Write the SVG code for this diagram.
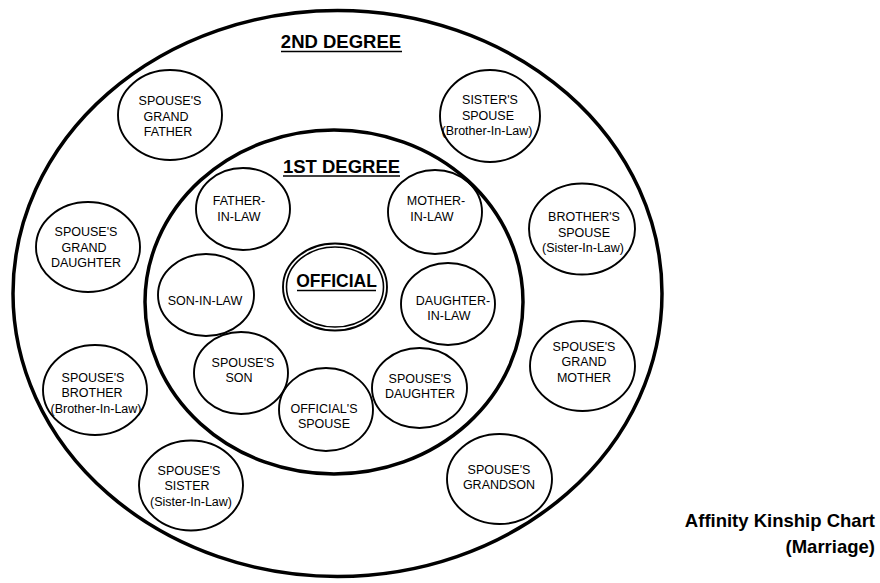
<svg xmlns="http://www.w3.org/2000/svg" width="880" height="583" viewBox="0 0 880 583">
<style>
text{font-family:"Liberation Sans",Arial,Helvetica,sans-serif;fill:#000}
.n{font-size:12.5px;text-anchor:middle}
.h{font-size:18.5px;font-weight:bold;text-anchor:middle}
.c{font-size:18.5px;font-weight:bold;text-anchor:end}
.e{fill:none;stroke:#000;stroke-width:1.9}
.ring{fill:none;stroke:#000;stroke-width:3.5}
.ul{stroke:#000;stroke-width:1.6}
</style>
<rect width="880" height="583" fill="#fff"/>
<g id="rings">
<ellipse class="ring" cx="337.5" cy="293.5" rx="324.5" ry="283"/>
<ellipse class="ring" cx="334" cy="302" rx="189" ry="172"/>
</g>
<g id="headings">
<text class="h" x="341" y="48">2ND DEGREE</text>
<line class="ul" x1="281" y1="51.5" x2="402" y2="51.5"/>
<text class="h" x="341.5" y="173">1ST DEGREE</text>
<line class="ul" x1="283" y1="176" x2="400" y2="176"/>
</g>
<g id="connectors"></g>
<g id="official">
<ellipse class="e" cx="335" cy="287" rx="52" ry="43.5"/>
<ellipse cx="335" cy="287" rx="48.5" ry="40" fill="none" stroke="#000" stroke-width="1.6"/>
<text x="336.5" y="287" style="font-size:17.5px;font-weight:bold;text-anchor:middle">OFFICIAL</text>
<line class="ul" x1="297" y1="290.5" x2="376" y2="290.5"/>
</g>
<g id="father-in-law">
<ellipse class="e" cx="243" cy="209" rx="47" ry="41"/>
<text class="n"><tspan x="239" y="205">FATHER-</tspan><tspan x="239" y="221">IN-LAW</tspan></text>
</g>
<g id="mother-in-law">
<ellipse class="e" cx="435" cy="212" rx="47" ry="42"/>
<text class="n"><tspan x="436" y="205">MOTHER-</tspan><tspan x="432" y="221">IN-LAW</tspan></text>
</g>
<g id="son-in-law">
<ellipse class="e" cx="206" cy="295" rx="48" ry="41"/>
<text class="n" x="205" y="305">SON-IN-LAW</text>
</g>
<g id="daughter-in-law">
<ellipse class="e" cx="448" cy="304" rx="47" ry="41"/>
<text class="n"><tspan x="453" y="305">DAUGHTER-</tspan><tspan x="449" y="320">IN-LAW</tspan></text>
</g>
<g id="spouses-son">
<ellipse class="e" cx="241" cy="373" rx="47" ry="41"/>
<text class="n"><tspan x="243" y="367">SPOUSE'S</tspan><tspan x="239" y="382">SON</tspan></text>
</g>
<g id="officials-spouse">
<ellipse class="e" cx="326" cy="409.5" rx="47" ry="41.5"/>
<text class="n"><tspan x="324" y="413">OFFICIAL'S</tspan><tspan x="324" y="428">SPOUSE</tspan></text>
</g>
<g id="spouses-daughter">
<ellipse class="e" cx="419.5" cy="388" rx="47.5" ry="40"/>
<text class="n"><tspan x="420" y="383">SPOUSE'S</tspan><tspan x="420" y="398">DAUGHTER</tspan></text>
</g>
<g id="spouses-grand-father">
<ellipse class="e" cx="170" cy="115" rx="52" ry="45"/>
<text class="n"><tspan x="170" y="105">SPOUSE'S</tspan><tspan x="166" y="121">GRAND</tspan><tspan x="168" y="136">FATHER</tspan></text>
</g>
<g id="sisters-spouse">
<ellipse class="e" cx="490" cy="116" rx="50" ry="46"/>
<text class="n"><tspan x="490" y="104">SISTER'S</tspan><tspan x="488" y="120">SPOUSE</tspan><tspan x="487" y="135">(Brother-In-Law)</tspan></text>
</g>
<g id="spouses-grand-daughter">
<ellipse class="e" cx="88" cy="247" rx="52" ry="45"/>
<text class="n"><tspan x="86" y="236">SPOUSE'S</tspan><tspan x="84" y="252">GRAND</tspan><tspan x="86" y="267">DAUGHTER</tspan></text>
</g>
<g id="brothers-spouse">
<ellipse class="e" cx="582" cy="229" rx="53" ry="45.5"/>
<text class="n"><tspan x="584" y="221">BROTHER'S</tspan><tspan x="584" y="237">SPOUSE</tspan><tspan x="583" y="252">(Sister-In-Law)</tspan></text>
</g>
<g id="spouses-brother">
<ellipse class="e" cx="95" cy="390" rx="52" ry="45"/>
<text class="n"><tspan x="93" y="382">SPOUSE'S</tspan><tspan x="92" y="397">BROTHER</tspan><tspan x="96" y="413">(Brother-In-Law)</tspan></text>
</g>
<g id="spouses-grand-mother">
<ellipse class="e" cx="582.5" cy="366" rx="52.5" ry="45"/>
<text class="n"><tspan x="584" y="351">SPOUSE'S</tspan><tspan x="584" y="366">GRAND</tspan><tspan x="584" y="382">MOTHER</tspan></text>
</g>
<g id="spouses-sister">
<ellipse class="e" cx="191" cy="485.5" rx="52" ry="45"/>
<text class="n"><tspan x="189" y="475">SPOUSE'S</tspan><tspan x="187" y="490">SISTER</tspan><tspan x="191" y="506">(Sister-In-Law)</tspan></text>
</g>
<g id="spouses-grandson">
<ellipse class="e" cx="499.5" cy="479" rx="52.5" ry="45"/>
<text class="n"><tspan x="499" y="474">SPOUSE'S</tspan><tspan x="499" y="489">GRANDSON</tspan></text>
</g>
<g id="caption">
<text class="c"><tspan x="875" y="527">Affinity Kinship Chart</tspan><tspan x="875" y="553">(Marriage)</tspan></text>
</g>
</svg>
